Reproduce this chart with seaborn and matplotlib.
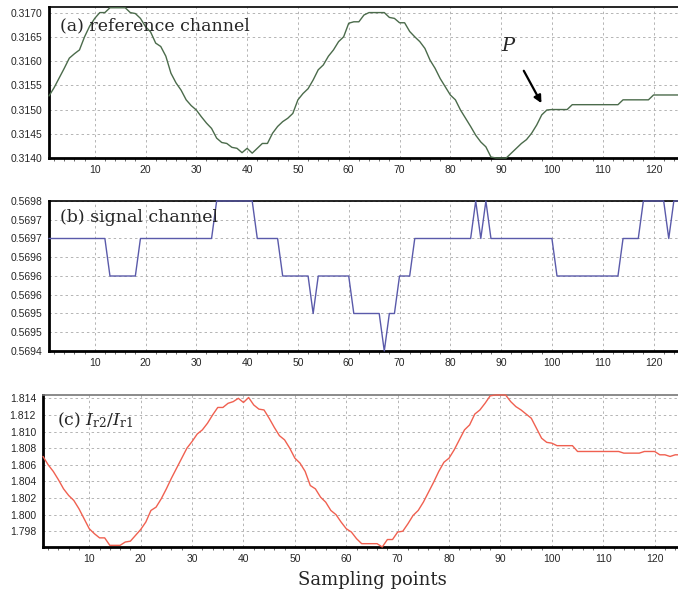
import numpy as np
import pandas as pd
import matplotlib
matplotlib.use("Agg")
import matplotlib.pyplot as plt
import seaborn as sns
from matplotlib.ticker import MultipleLocator, FixedLocator

# ---------------- data ----------------
samples = list(range(1, 126))

ref_channel = [
    0.31528, 0.31545, 0.31565, 0.31585, 0.31606, 0.31615, 0.31623, 0.31650, 0.31672, 0.31688,
    0.31700, 0.31700, 0.31710, 0.31710, 0.31710, 0.31710, 0.31700, 0.31698, 0.31688, 0.31671,
    0.31660, 0.31637, 0.31630, 0.31610, 0.31575, 0.31555, 0.31540, 0.31520, 0.31508, 0.31499,
    0.31485, 0.31472, 0.31461, 0.31441, 0.31432, 0.31430, 0.31422, 0.31420, 0.31411, 0.31420,
    0.31410, 0.31420, 0.31430, 0.31430, 0.31451, 0.31465, 0.31475, 0.31482, 0.31492, 0.31520,
    0.31533, 0.31543, 0.31561, 0.31582, 0.31592, 0.31610, 0.31623, 0.31640, 0.31650, 0.31678,
    0.31681, 0.31681, 0.31695, 0.31700, 0.31700, 0.31700, 0.31700, 0.31690, 0.31688, 0.31679,
    0.31679, 0.31661, 0.31650, 0.31640, 0.31626, 0.31602, 0.31585, 0.31564, 0.31547, 0.31530,
    0.31520, 0.31499, 0.31482, 0.31465, 0.31447, 0.31433, 0.31423, 0.31402, 0.31400, 0.31400,
    0.31400, 0.31410, 0.31420, 0.31430, 0.31438, 0.31451, 0.31468, 0.31489, 0.31499, 0.31500,
    0.31500, 0.31500, 0.31500, 0.31510, 0.31510, 0.31510, 0.31510, 0.31510, 0.31510, 0.31510,
    0.31510, 0.31510, 0.31510, 0.31520, 0.31520, 0.31520, 0.31520, 0.31520, 0.31520, 0.31530,
    0.31530, 0.31530, 0.31530, 0.31530, 0.31530,
]

sig_channel = [
    0.5697, 0.5697, 0.5697, 0.5697, 0.5697, 0.5697, 0.5697, 0.5697, 0.5697, 0.5697,
    0.5697, 0.5697, 0.5696, 0.5696, 0.5696, 0.5696, 0.5696, 0.5696, 0.5697, 0.5697,
    0.5697, 0.5697, 0.5697, 0.5697, 0.5697, 0.5697, 0.5697, 0.5697, 0.5697, 0.5697,
    0.5697, 0.5697, 0.5697, 0.5698, 0.5698, 0.5698, 0.5698, 0.5698, 0.5698, 0.5698,
    0.5698, 0.5697, 0.5697, 0.5697, 0.5697, 0.5697, 0.5696, 0.5696, 0.5696, 0.5696,
    0.5696, 0.5696, 0.5695, 0.5696, 0.5696, 0.5696, 0.5696, 0.5696, 0.5696, 0.5696,
    0.5695, 0.5695, 0.5695, 0.5695, 0.5695, 0.5695, 0.5694, 0.5695, 0.5695, 0.5696,
    0.5696, 0.5696, 0.5697, 0.5697, 0.5697, 0.5697, 0.5697, 0.5697, 0.5697, 0.5697,
    0.5697, 0.5697, 0.5697, 0.5697, 0.5698, 0.5697, 0.5698, 0.5697, 0.5697, 0.5697,
    0.5697, 0.5697, 0.5697, 0.5697, 0.5697, 0.5697, 0.5697, 0.5697, 0.5697, 0.5697,
    0.5696, 0.5696, 0.5696, 0.5696, 0.5696, 0.5696, 0.5696, 0.5696, 0.5696, 0.5696,
    0.5696, 0.5696, 0.5696, 0.5697, 0.5697, 0.5697, 0.5697, 0.5698, 0.5698, 0.5698,
    0.5698, 0.5698, 0.5697, 0.5698, 0.5698,
]

ratio = [
    1.8070, 1.8060, 1.8052, 1.8042, 1.8031, 1.8023, 1.8017, 1.8007, 1.7995, 1.7983,
    1.7977, 1.7972, 1.7972, 1.7963, 1.7963, 1.7963, 1.7967, 1.7968, 1.7975, 1.7982,
    1.7991, 1.8005, 1.8009, 1.8019, 1.8031, 1.8044, 1.8056, 1.8068, 1.8080, 1.8088,
    1.8097, 1.8102, 1.8110, 1.8120, 1.8129, 1.8129, 1.8134, 1.8136, 1.8140, 1.8135,
    1.8141, 1.8132, 1.8127, 1.8126, 1.8116, 1.8105, 1.8095, 1.8090, 1.8080, 1.8068,
    1.8062, 1.8052, 1.8035, 1.8031, 1.8021, 1.8015, 1.8005, 1.8000, 1.7991, 1.7983,
    1.7979, 1.7971, 1.7965, 1.7965, 1.7965, 1.7965, 1.7961, 1.7970, 1.7970, 1.7979,
    1.7980, 1.7989, 1.7999, 1.8005, 1.8015, 1.8027, 1.8039, 1.8052, 1.8063, 1.8068,
    1.8078, 1.8090, 1.8102, 1.8108, 1.8121, 1.8126, 1.8134, 1.8143, 1.8144, 1.8144,
    1.8144, 1.8136, 1.8130, 1.8126, 1.8121, 1.8116, 1.8104, 1.8092, 1.8087, 1.8086,
    1.8083, 1.8083, 1.8083, 1.8083, 1.8076, 1.8076, 1.8076, 1.8076, 1.8076, 1.8076,
    1.8076, 1.8076, 1.8076, 1.8074, 1.8074, 1.8074, 1.8074, 1.8076, 1.8076, 1.8076,
    1.8072, 1.8072, 1.8070, 1.8072, 1.8072,
]

x_ticks = [10, 20, 30, 40, 50, 60, 70, 80, 90, 100, 110, 120]
a_yticks = [0.3140, 0.3145, 0.3150, 0.3155, 0.3160, 0.3165, 0.3170]
a_ylabels = ["0.3140", "0.3145", "0.3150", "0.3155", "0.3160", "0.3165", "0.3170"]
b_yticks = [0.56940, 0.56945, 0.56950, 0.56955, 0.56960, 0.56965, 0.56970, 0.56975, 0.56980]
b_ylabels = ["0.5694", "0.5695", "0.5695", "0.5696", "0.5696", "0.5696", "0.5697", "0.5697", "0.5698"]
c_yticks = [1.798, 1.800, 1.802, 1.804, 1.806, 1.808, 1.810, 1.812, 1.814]
c_ylabels = ["1.798", "1.800", "1.802", "1.804", "1.806", "1.808", "1.810", "1.812", "1.814"]

titles = ["(a) reference channel", "(b) signal channel", r"(c) $I_{\mathrm{r2}}/I_{\mathrm{r1}}$"]
xlabel = "Sampling points"

# ---------------- style ----------------
sns.set_theme(style="white")
plt.rcParams["font.family"] = ["Liberation Sans", "DejaVu Sans"]
plt.rcParams["mathtext.fontset"] = "dejavuserif"

fig = plt.figure(figsize=(6.78, 5.96), dpi=100)
W, H = 678.0, 596.0

def axbox(left, top, bottom, right=681):
    return [left / W, 1 - bottom / H, (right - left) / W, (bottom - top) / H]

ax_a = fig.add_axes(axbox(49, 7, 158))
ax_b = fig.add_axes(axbox(49, 201, 351))
ax_c = fig.add_axes(axbox(43, 395, 547))

df = pd.DataFrame({"x": samples, "ref": ref_channel, "sig": sig_channel, "ratio": ratio})

sns.lineplot(data=df, x="x", y="ref", ax=ax_a, color="#4b6b4b", linewidth=1.0)
sns.lineplot(data=df, x="x", y="sig", ax=ax_b, color="#5a5aaa", linewidth=1.0)
sns.lineplot(data=df, x="x", y="ratio", ax=ax_c, color="#f06050", linewidth=1.0)

settings = [
    (ax_a, (0.31400, 0.317115), a_yticks, a_ylabels, "black"),
    (ax_b, (0.56940, 0.56980), b_yticks, b_ylabels, "black"),
    (ax_c, (1.7961, 1.8144), c_yticks, c_ylabels, "#777777"),
]
for ax, ylim, yt, yl, topcol in settings:
    ax.set_xlim(1, 1 + (681 - 49) / 5.08 if ax is not ax_c else 1 + (681 - 43) / 5.14)
    ax.set_ylim(*ylim)
    ax.set_xticks(x_ticks)
    ax.set_xticklabels([str(t) for t in x_ticks], fontsize=7.5)
    ax.set_yticks(yt)
    ax.set_yticklabels(yl, fontsize=7.5)
    ax.xaxis.set_minor_locator(MultipleLocator(2))
    ax.tick_params(axis="both", which="major", length=0, pad=5)
    ax.tick_params(axis="x", which="minor", length=2, width=0.6, color="#555555", direction="out", bottom=True)
    ax.grid(True, which="major", color="#b4b4b4", linestyle=(0, (2.5, 3)), linewidth=0.7)
    ax.set_xlabel("")
    ax.set_ylabel("")
    for s in ["left", "bottom"]:
        ax.spines[s].set_visible(True)
        ax.spines[s].set_color("black")
        ax.spines[s].set_linewidth(2.0)
    ax.spines["top"].set_visible(True)
    ax.spines["top"].set_color(topcol)
    ax.spines["top"].set_linewidth(1.2)
    ax.spines["right"].set_visible(False)
    for ln in ax.get_lines():
        ln.set_zorder(3)
        ln.set_clip_on(False)

ax_a.text(0.0175, 0.874, titles[0], transform=ax_a.transAxes, fontsize=12.5,
          family="DejaVu Serif", va="center", ha="left")
ax_b.text(0.0175, 0.893, titles[1], transform=ax_b.transAxes, fontsize=12.5,
          family="DejaVu Serif", va="center", ha="left")
ax_c.text(0.022, 0.835, titles[2], transform=ax_c.transAxes, fontsize=12.5,
          family="DejaVu Serif", va="center", ha="left")

# P annotation with arrow
ax_a.annotate("", xy=(98.2, 0.31508), xytext=(94.2, 0.31585),
              arrowprops=dict(arrowstyle="-|>", color="black", lw=1.6, mutation_scale=11))
ax_a.text(91.4, 0.31632, "P", fontsize=14, family="DejaVu Serif", style="italic",
          ha="center", va="center")

fig.text(372 / W, 1 - 580 / H, xlabel, fontsize=13, family="DejaVu Serif",
         ha="center", va="center")

fig.savefig("out.png", dpi=100)
